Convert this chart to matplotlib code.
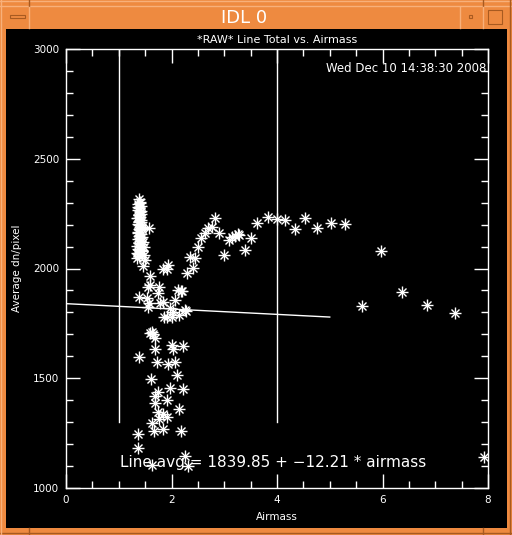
import numpy as np
import matplotlib
matplotlib.use('Agg')
import matplotlib.pyplot as plt
from matplotlib.patches import Rectangle
from matplotlib.ticker import MultipleLocator

# dense cluster near airmass 1.4
cluster_x = [1.38, 1.40, 1.36, 1.42, 1.39, 1.37, 1.41, 1.43, 1.38, 1.40, 1.36, 1.42,
             1.39, 1.37, 1.41, 1.44, 1.38, 1.40, 1.36, 1.42, 1.39, 1.45, 1.37, 1.41,
             1.38, 1.43, 1.40, 1.36, 1.44, 1.39, 1.47, 1.50, 1.35, 1.46,
             1.41, 1.37, 1.43, 1.39, 1.35, 1.42, 1.38, 1.44, 1.36, 1.40, 1.46, 1.34,
             1.41, 1.37, 1.43, 1.39, 1.48, 1.35]
cluster_y = [2318, 2305, 2292, 2284, 2275, 2266, 2258, 2250, 2242, 2236, 2228, 2220,
             2212, 2205, 2198, 2190, 2182, 2174, 2166, 2158, 2150, 2142, 2134, 2126,
             2118, 2110, 2100, 2090, 2080, 2070, 2060, 2040, 2050, 2010,
             2298, 2280, 2262, 2246, 2232, 2214, 2196, 2178, 2160, 2140, 2122, 2104,
             2086, 2068, 2084, 2058, 2096, 2072]

# remaining measurements
air = [1.57, 2.83, 2.69, 2.77, 2.90, 2.64, 2.56, 3.09, 3.20, 3.26, 2.50, 3.00,
       2.35, 2.45, 2.41, 2.29, 1.84, 1.91, 1.93, 1.59, 1.59, 1.56, 1.76, 1.75,
       2.12, 2.18, 2.07, 1.38, 1.54, 1.57, 1.55, 1.78, 1.84, 1.97, 2.03, 1.86,
       1.91, 2.01, 2.14, 2.27, 1.63, 1.65, 1.59, 1.69, 1.69, 2.01, 2.03, 2.22,
       1.38, 1.73, 1.93, 2.07, 2.10, 1.61, 1.97, 2.22, 1.74, 1.69, 1.91, 1.69,
       2.14, 1.74, 1.84, 1.91, 1.76, 1.63, 1.84, 1.67, 2.18, 1.36, 1.36, 2.26,
       1.63, 2.31, 7.92, 3.62, 3.83, 4.00, 4.15, 4.34, 4.53, 4.76, 5.02, 5.29,
       5.97, 5.61, 6.37, 6.84, 7.37, 3.39, 3.51, 3.28, 3.15, 2.20, 2.26]
dn = [2185, 2230, 2185, 2190, 2162, 2162, 2139, 2130, 2148, 2157, 2098, 2061,
      2052, 2048, 2002, 1980, 1998, 1998, 2016, 1966, 1925, 1916, 1916, 1888,
      1902, 1897, 1856, 1870, 1866, 1843, 1825, 1843, 1848, 1820, 1802, 1779,
      1779, 1779, 1788, 1806, 1711, 1702, 1706, 1683, 1633, 1651, 1633, 1647,
      1597, 1574, 1565, 1574, 1515, 1497, 1456, 1451, 1437, 1419, 1401, 1387,
      1360, 1346, 1337, 1323, 1314, 1296, 1269, 1260, 1260, 1246, 1182, 1146,
      1105, 1100, 1141, 2207, 2235, 2226, 2221, 2180, 2230, 2185, 2207, 2203,
      2080, 1829, 1893, 1834, 1797, 2084, 2139, 2153, 2143, 1897, 1811]

fit_a = 1839.85
fit_b = -12.21
fit_x = [0, 5]
vlines_x = [1, 4]
vline_ymin = 1300

W, H = 512, 535
orange = '#ee8a40'
light = '#f8b07a'
dark = '#a85a20'

fig = plt.figure(figsize=(W / 100, H / 100), dpi=100)
fig.patch.set_facecolor(orange)

# window frame drawn in pixel coordinates
bg = fig.add_axes([0, 0, 1, 1])
bg.set_xlim(0, W)
bg.set_ylim(H, 0)
bg.axis('off')
bg.add_patch(Rectangle((6, 29), 501, 499, facecolor='black', edgecolor='none'))
# bevel lines
for y in [1, 6]:
    bg.plot([0, W], [y, y], color=light, lw=1)
bg.plot([0, W], [533, 533], color=dark, lw=1)
bg.plot([1, 1], [0, H], color=light, lw=1)
bg.plot([510, 510], [0, H], color=dark, lw=1)
bg.plot([29, 29], [0, 6], color=dark, lw=1)
bg.plot([483, 483], [0, 6], color=dark, lw=1)
bg.plot([29, 29], [528, H], color=dark, lw=1)
bg.plot([483, 483], [528, H], color=dark, lw=1)
# title bar buttons
bg.plot([29, 29], [7, 28], color=light, lw=1)
bg.plot([460, 460], [7, 28], color=light, lw=1)
bg.plot([483, 483], [7, 28], color=light, lw=1)
bg.add_patch(Rectangle((10, 15), 15, 3, facecolor=orange, edgecolor=dark, lw=0.8))
bg.add_patch(Rectangle((469, 15), 3, 3, facecolor=orange, edgecolor=dark, lw=0.8))
bg.add_patch(Rectangle((488, 10), 14, 14, facecolor=orange, edgecolor=dark, lw=0.8))
bg.text(244, 18, 'IDL 0', color='white', fontsize=13, ha='center', va='center')

# plot area
ax = fig.add_axes([66 / W, (H - 488) / H, 422 / W, 439 / H])
ax.set_facecolor('black')
ax.set_xlim(0, 8)
ax.set_ylim(1000, 3000)
for s in ax.spines.values():
    s.set_color('white')
    s.set_linewidth(1)

all_x = cluster_x + air
all_y = cluster_y + dn
ax.plot(all_x, all_y, linestyle='none', marker='+', ms=8, mew=1, color='white')
ax.plot(all_x, all_y, linestyle='none', marker='x', ms=6, mew=1, color='white')

fx = np.array(fit_x)
ax.plot(fx, fit_a + fit_b * fx, color='white', lw=1)
for vx in vlines_x:
    ax.plot([vx, vx], [vline_ymin, 3000], color='white', lw=1)

ax.xaxis.set_major_locator(MultipleLocator(2))
ax.xaxis.set_minor_locator(MultipleLocator(0.5))
ax.yaxis.set_major_locator(MultipleLocator(500))
ax.yaxis.set_minor_locator(MultipleLocator(100))
ax.tick_params(which='both', direction='in', top=True, right=True, colors='white',
               labelsize=7.5, pad=5)
ax.tick_params(which='major', length=10, width=1)
ax.tick_params(which='minor', length=5, width=1)

ax.set_title('*RAW* Line Total vs. Airmass', color='white', fontsize=8, pad=4)
ax.set_xlabel('Airmass', color='white', fontsize=7.5, labelpad=5)
ax.set_ylabel('Average dn/pixel', color='white', fontsize=7.5, labelpad=8)
ax.text(0.995, 0.955, 'Wed Dec 10 14:38:30 2008', transform=ax.transAxes,
        color='white', fontsize=8.5, ha='right', va='center')
ax.text(0.127, 1114, 'Line avg = %.2f + \u2212%.2f * airmass' % (fit_a, -fit_b),
        transform=ax.get_yaxis_transform(), color='white', fontsize=11,
        ha='left', va='center')

fig.savefig('out.png', dpi=100, facecolor=orange)
